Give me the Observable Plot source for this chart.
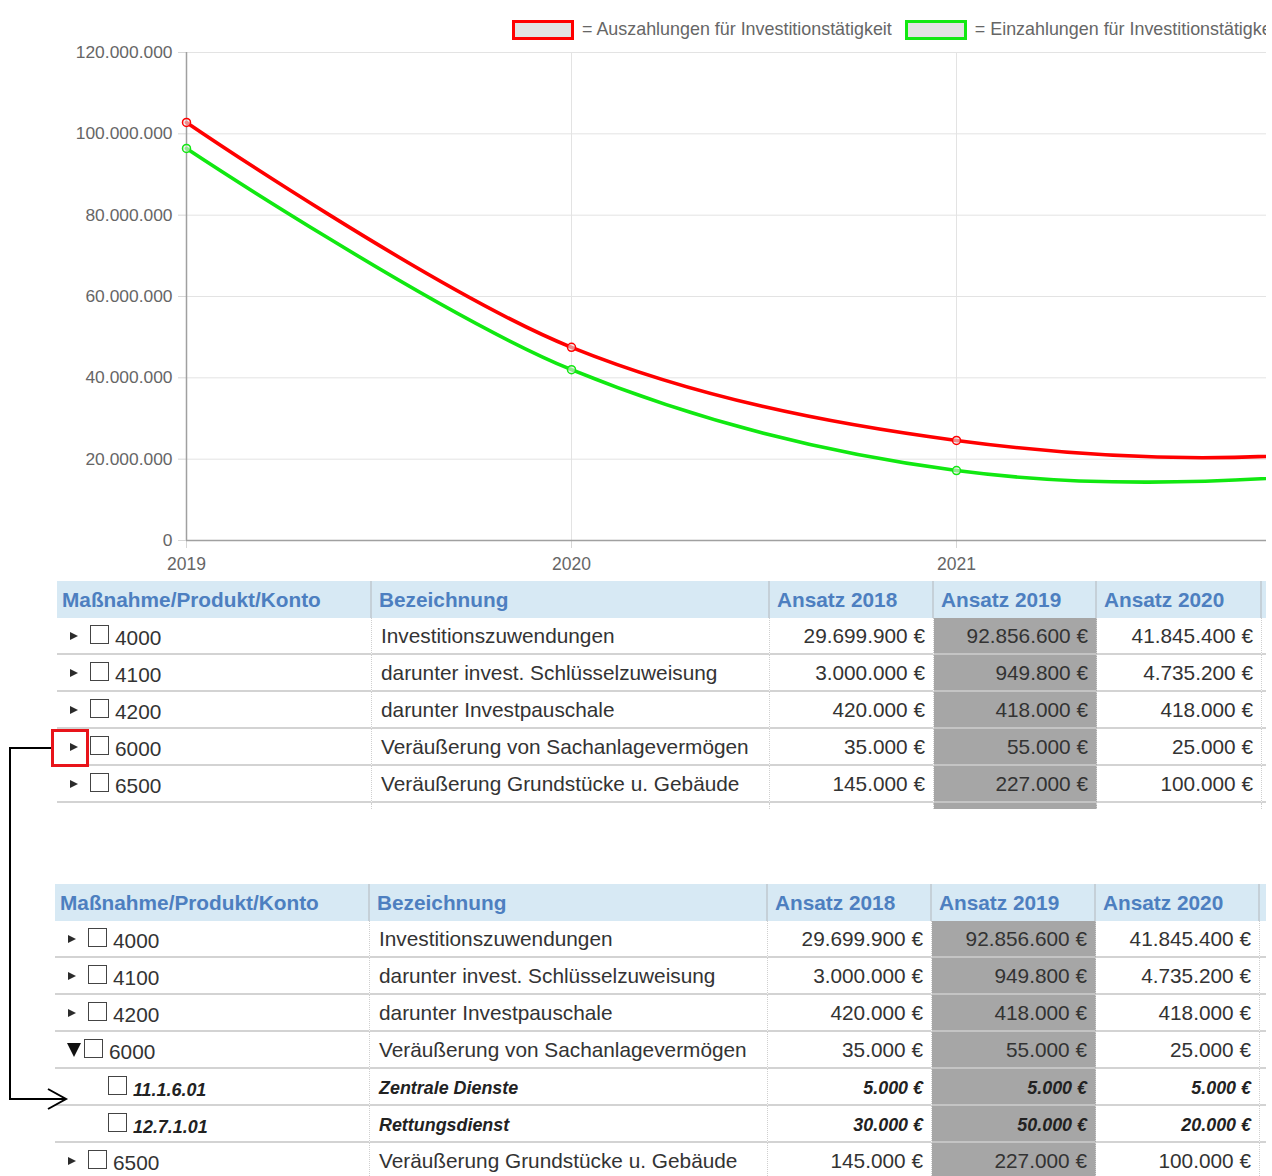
<!DOCTYPE html>
<html><head><meta charset="utf-8">
<script src="https://cdn.jsdelivr.net/npm/d3@7"></script>
<script src="https://cdn.jsdelivr.net/npm/@observablehq/plot@0.6"></script>
<style>
html,body{margin:0;padding:0;width:1272px;height:1176px;overflow:hidden;background:#fff;}
body{font-family:"Liberation Sans",Arial,sans-serif;}
#page{position:relative;width:1266px;height:1176px;overflow:hidden;}
#chart{position:absolute;left:0;top:0;width:1766px;}
#chart svg{max-width:none !important;width:1766px;height:580px;}
#legend{position:absolute;left:512px;top:19px;display:flex;align-items:center;white-space:nowrap;font-size:17.9px;color:#666;}
.lbox{width:56px;height:14px;border:3px solid;background:#e2e2e2;margin-right:8px;}
.ltxt{margin-right:13px;}
table.t{position:absolute;border-collapse:separate;border-spacing:0;table-layout:fixed;font-size:20.8px;color:#333;}
table.t th{box-sizing:border-box;height:37px;background:#d7e9f4;color:#4d7fc0;text-align:left;font-weight:bold;padding:0 0 0 7px;border-right:2px solid #c5d0d8;white-space:nowrap;overflow:hidden;}
table.t th:first-child{padding-left:5px;}
table.t td{box-sizing:border-box;height:37px;border-bottom:2px solid #d3d3d3;border-right:1px dotted #cfcfcf;padding:0 8px 0 9px;white-space:nowrap;overflow:hidden;vertical-align:middle;}
table.t td.num{text-align:right;}
table.t td.g{background:#a6a6a6;}
table.t td.g{border-bottom-color:#c4c4c4;}
table.t tr.sub td{font-weight:bold;font-style:italic;font-size:17.9px;color:#222;padding-top:3px;}
table.t tr.tail td{height:6px;border-bottom:none;}
.k{display:flex;align-items:center;padding-left:4px;}
.tri{display:inline-block;width:0;height:0;border-left:8px solid #2b2b2b;border-top:4.5px solid transparent;border-bottom:4.5px solid transparent;margin-right:12px;}
.tri.down{border-left:7px solid transparent;border-right:7px solid transparent;border-top:14px solid #111;border-bottom:none;margin-right:3px;margin-left:-1px;}
.cb{display:inline-block;box-sizing:border-box;width:19px;height:19px;border:1.6px solid #444;background:#fff;margin-right:6px;position:relative;top:-1px;}
tr.sub .cb{top:-3px;}
.code{position:relative;top:2px;}
#redbox{position:absolute;left:51px;top:729px;width:32px;height:32px;border:3px solid #e8141a;}
#arrow{position:absolute;left:0;top:0;pointer-events:none;}
</style></head>
<body>
<div id="page">
<div id="chart"></div>
<div id="legend"></div>
</div>
<script>
// ---- chart data ----
const years = [2019, 2020, 2021, 2022, 2023];
const auszahlungen = [102800000, 47500000, 24600000, 22000000, 44000000];
const einzahlungen = [96400000, 42000000, 17200000, 16500000, 32500000];
const seriesNames = ["Auszahlungen für Investitionstätigkeit", "Einzahlungen für Investitionstätigkeit"];
const seriesColors = ["#ff0000", "#11e811"];
const yTicks = [0, 20000000, 40000000, 60000000, 80000000, 100000000, 120000000];
const xTicks = [2019, 2020, 2021];

// ---- table data ----
const headers = ["Maßnahme/Produkt/Konto", "Bezeichnung", "Ansatz 2018", "Ansatz 2019", "Ansatz 2020", ""];
const konten = ["4000", "4100", "4200", "6000", "6500"];
const bezeichnungen = ["Investitionszuwendungen", "darunter invest. Schlüsselzuweisung", "darunter Investpauschale", "Veräußerung von Sachanlagevermögen", "Veräußerung Grundstücke u. Gebäude"];
const ansatz2018 = [29699900, 3000000, 420000, 35000, 145000];
const ansatz2019 = [92856600, 949800, 418000, 55000, 227000];
const ansatz2020 = [41845400, 4735200, 418000, 25000, 100000];
const unterKonten = ["11.1.6.01", "12.7.1.01"];
const unterBezeichnungen = ["Zentrale Dienste", "Rettungsdienst"];
const unter2018 = [5000, 30000];
const unter2019 = [5000, 50000];
const unter2020 = [5000, 20000];

const loc = d3.formatLocale({decimal: ",", thousands: ".", grouping: [3], currency: ["", " €"]});
const fmt = loc.format(",d");
const eur = v => fmt(v) + " €";

const rows = [];
years.forEach((y, i) => {
  rows.push({year: y, value: auszahlungen[i], series: seriesNames[0]});
  rows.push({year: y, value: einzahlungen[i], series: seriesNames[1]});
});

const chart = Plot.plot({
  width: 1766, height: 580,
  marginLeft: 186, marginRight: 40, marginTop: 52, marginBottom: 40,
  style: {fontFamily: "'Liberation Sans', Arial, sans-serif", fontSize: "17.4px", color: "#666", background: "transparent", overflow: "visible", maxWidth: "none"},
  x: {domain: [2019, 2023], label: null},
  y: {domain: [0, 120000000], label: null},
  color: {domain: seriesNames, range: seriesColors},
  marks: [
    Plot.gridY(yTicks, {stroke: "#e3e3e3", strokeOpacity: 1}),
    Plot.gridX(years, {stroke: "#e3e3e3", strokeOpacity: 1}),
    Plot.axisY(yTicks, {tickFormat: fmt, tickSize: 8, tickPadding: 6, stroke: "#d6d6d6", label: null}),
    Plot.axisX(xTicks, {tickFormat: d => String(d), tickSize: 8, tickPadding: 9, stroke: "#d6d6d6", label: null, fontSize: "17.5px"}),
    Plot.ruleY([0], {stroke: "#a0a0a0", strokeWidth: 1.5}),
    Plot.ruleX([2019], {stroke: "#a0a0a0", strokeWidth: 1.5}),
    Plot.line(rows, {x: "year", y: "value", stroke: "series", z: "series", curve: "catmull-rom", strokeWidth: 3.6}),
    Plot.dot(rows, {x: "year", y: "value", stroke: "series", fill: "#e6e6e6", fillOpacity: 0.6, r: 4, strokeWidth: 1.5})
  ]
});
document.getElementById("chart").appendChild(chart);

// legend
const lg = document.getElementById("legend");
seriesNames.forEach((n, i) => {
  const b = document.createElement("span"); b.className = "lbox"; b.style.borderColor = seriesColors[i];
  const t = document.createElement("span"); t.className = "ltxt"; t.textContent = "= " + n;
  lg.appendChild(b); lg.appendChild(t);
});

const page = document.getElementById("page");
function buildTable(left, top, widths, expanded) {
  const t = document.createElement("table");
  t.className = "t";
  t.style.left = left + "px"; t.style.top = top + "px";
  t.style.width = widths.reduce((a, b) => a + b, 0) + "px";
  const cg = document.createElement("colgroup");
  widths.forEach(w => { const c = document.createElement("col"); c.style.width = w + "px"; cg.appendChild(c); });
  t.appendChild(cg);
  const hr = document.createElement("tr");
  headers.forEach(h => { const th = document.createElement("th"); th.textContent = h; hr.appendChild(th); });
  t.appendChild(hr);
  function addRow(code, name, a, b, c, opts) {
    const tr = document.createElement("tr");
    if (opts.sub) tr.className = "sub";
    const td0 = document.createElement("td");
    const k = document.createElement("div"); k.className = "k";
    if (opts.sub) { k.style.paddingLeft = "44px"; }
    else { const tri = document.createElement("span"); tri.className = "tri" + (opts.open ? " down" : ""); k.appendChild(tri); }
    const cb = document.createElement("span"); cb.className = "cb"; k.appendChild(cb);
    const cs = document.createElement("span"); cs.className = "code"; cs.textContent = code; k.appendChild(cs);
    td0.appendChild(k); tr.appendChild(td0);
    const td1 = document.createElement("td"); td1.textContent = name; tr.appendChild(td1);
    [a, b, c].forEach((v, j) => {
      const td = document.createElement("td"); td.className = "num" + (j === 1 ? " g" : "");
      td.textContent = eur(v); tr.appendChild(td);
    });
    tr.appendChild(document.createElement("td"));
    t.appendChild(tr);
  }
  konten.forEach((k, i) => {
    const open = expanded && k === "6000";
    addRow(k, bezeichnungen[i], ansatz2018[i], ansatz2019[i], ansatz2020[i], {open});
    if (open) unterKonten.forEach((u, j) => addRow(u, unterBezeichnungen[j], unter2018[j], unter2019[j], unter2020[j], {sub: true}));
  });
  const tail = document.createElement("tr"); tail.className = "tail";
  widths.forEach((w, j) => { const td = document.createElement("td"); if (j === 3) td.className = "g"; tail.appendChild(td); });
  t.appendChild(tail);
  page.appendChild(t);
}
buildTable(57, 581, [315, 398, 164, 163, 165, 200], false);
buildTable(55, 884, [315, 398, 164, 164, 164, 200], true);

// annotation
const rb = document.createElement("div"); rb.id = "redbox"; page.appendChild(rb);
const ns = "http://www.w3.org/2000/svg";
const sv = document.createElementNS(ns, "svg");
sv.setAttribute("id", "arrow"); sv.setAttribute("width", 1266); sv.setAttribute("height", 1176);
const p = document.createElementNS(ns, "path");
p.setAttribute("d", "M51,748H10V1099H66M48,1089L66,1099L48,1109");
p.setAttribute("fill", "none"); p.setAttribute("stroke", "#000"); p.setAttribute("stroke-width", "2");
sv.appendChild(p); page.appendChild(sv);
</script>
</body></html>
